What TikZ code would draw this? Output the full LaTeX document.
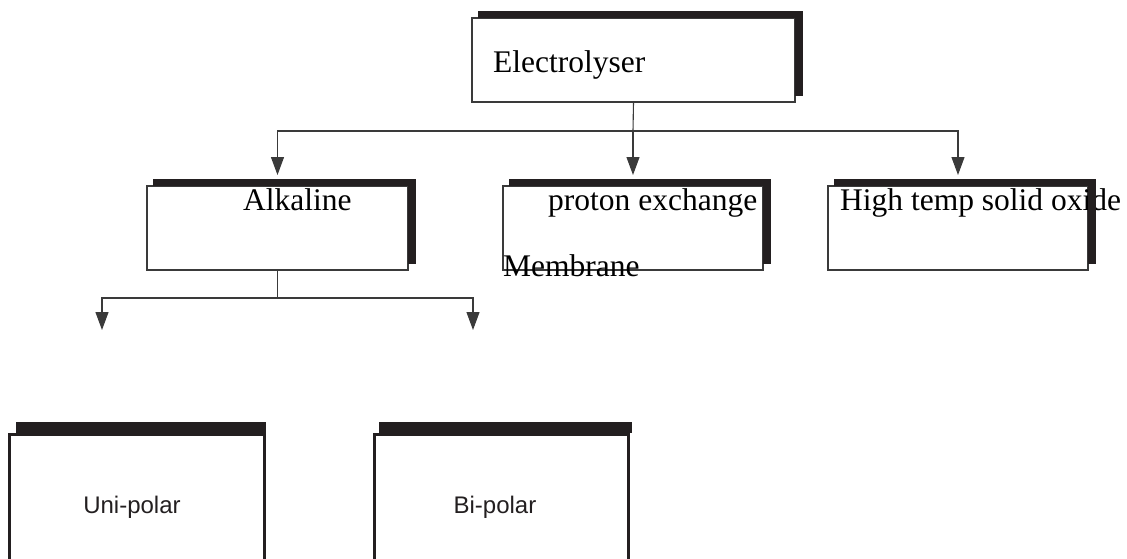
\documentclass[tikz,border=0pt]{standalone}
\usepackage{fontspec}
\setmainfont{Liberation Serif}
\newfontfamily\arialf{Liberation Sans}
\usetikzlibrary{arrows.meta}
\definecolor{ink}{HTML}{231F20}
\definecolor{edge}{HTML}{3A3A3A}
\newcommand\shadowbars[1]{%
  \fill[ink] ([shift={(6,-7)}]#1.north west) rectangle ([shift={(8,0)}]#1.north east);
  \fill[ink] ([shift={(0,-7)}]#1.north east) rectangle ([shift={(8,-6)}]#1.south east);}
\begin{document}
\begin{tikzpicture}[x=1pt,y=-1pt,
  boxA/.style={draw=edge, line width=1.1pt, rectangle, inner sep=0pt, outer sep=0pt, anchor=north west, minimum height=84pt},
  boxB/.style={draw=ink, line width=2.6pt, rectangle, inner sep=0pt, outer sep=0pt, anchor=north west, minimum height=200pt},
  txt/.style={anchor=base west, inner sep=0pt, font=\fontsize{31.5}{36}\selectfont},
  stxt/.style={anchor=base, inner sep=0pt, text=ink, font=\arialf\fontsize{24}{28}\selectfont},
  conn/.style={draw=edge, line width=1.1pt},
  arr/.style={conn, -{Triangle[width=13pt,length=18pt]}, shorten >=11pt}]
\useasboundingbox (0,0) rectangle (1127,558);
\clip (0,0) rectangle (1127,558);

% boxes
\node[boxA, minimum width=323pt] (e) at (472,18) {};
\node[boxA, minimum width=261pt] (a) at (147,186) {};
\node[boxA, minimum width=260pt] (p) at (503,186) {};
\node[boxA, minimum width=260pt] (h) at (828,186) {};
\node[boxB, minimum width=255pt] (u) at (9.5,434.5) {};
\node[boxB, minimum width=254pt] (b) at (374.5,434.5) {};

% texts
\node[txt] (te) at (493,72) {Electrolyser};
\node[txt] (ta) at (243,210) {Alkaline};
\node[txt] (tp1) at (548,210) {proton exchange};
\node[txt] (tp2) at (503,276) {Membrane};
\node[txt] (th) at (840,210) {High temp solid oxide};
\node[stxt] (tu) at (132,513) {Uni-polar};
\node[stxt] (tb) at (495,513) {Bi-polar};

% shadow bars
\shadowbars{e}
\shadowbars{a}
\shadowbars{p}
\shadowbars{h}
\fill[ink] (16,422) rectangle (266,433);
\fill[ink] (379,422) rectangle (632,433);

% connectors
\coordinate (j1) at (633,131);
\draw[conn] (e.south) -- (j1);
\draw[arr] (j1) -| (a.north);
\draw[arr] (j1) -| (p.north);
\draw[arr] (j1) -| (h.north);

\coordinate (j2) at (277.5,298);
\coordinate (t1) at (102,330);
\coordinate (t2) at (473,330);
\draw[conn] (a.south) -- (j2);
\draw[arr, shorten >=0pt] (j2) -| (t1);
\draw[arr, shorten >=0pt] (j2) -| (t2);
\end{tikzpicture}
\end{document}
